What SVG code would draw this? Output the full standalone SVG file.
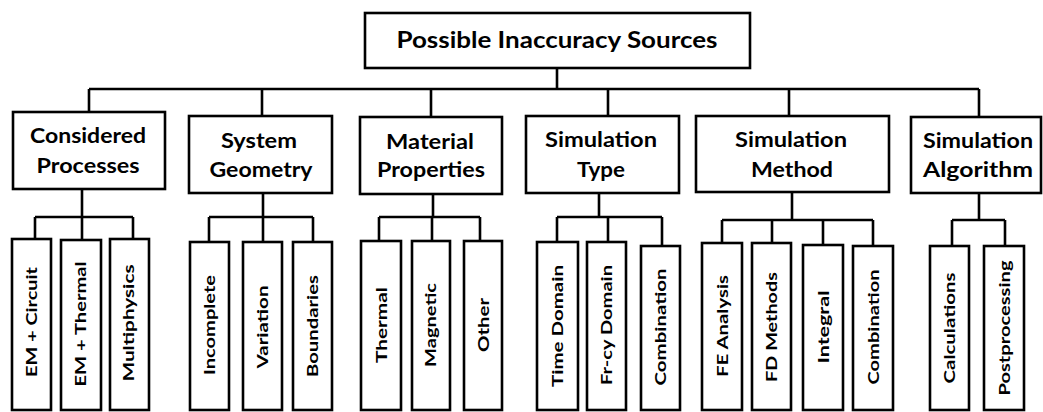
<svg xmlns="http://www.w3.org/2000/svg" width="1043" height="412" viewBox="0 0 1043 412">
<style>
rect{fill:#fff;stroke:#000;stroke-width:2.6}
.c path{fill:none;stroke:#000;stroke-width:2.6}
text{font-family:Lato,"Open Sans",sans-serif;font-weight:bold;fill:#000;text-anchor:middle}
.t{font-size:23px}
.m{font-size:21px}
.l{font-size:16px}
</style>
<g class="c" id="connectors">
<path d="M557 68V89M89 89H979M89 89V112M262 89V116M431 89V117M608 89V116M789 89V116M979 89V117"/>
<path d="M82 189V217M35 217H133M35 217V239M82 217V240M133 217V239"/>
<path d="M263 193V217M209 217H313M209 217V242M263 217V242M313 217V242"/>
<path d="M433 194V217M379 217H480M379 217V241M432 217V241M480 217V241"/>
<path d="M599 193V217M557 217H662M557 217V242M608 217V242M662 217V246"/>
<path d="M792 192V220M722 220H873M722 220V243M772 220V243M823 220V245M873 220V246"/>
<path d="M979 193V220M952 220H1005M952 220V246M1005 220V246"/>
</g>
<g id="root"><rect x="365" y="13" width="385" height="55"/><text class="t" x="557" y="48" textLength="321" lengthAdjust="spacingAndGlyphs">Possible Inaccuracy Sources</text></g>
<g id="cat-processes"><rect x="13" y="112" width="152" height="77"/><text class="m" x="88" y="143" textLength="116" lengthAdjust="spacingAndGlyphs">Considered</text><text class="m" x="88" y="173" textLength="103" lengthAdjust="spacingAndGlyphs">Processes</text></g>
<g id="cat-geometry"><rect x="189" y="116" width="143" height="77"/><text class="m" x="259" y="148" textLength="76" lengthAdjust="spacingAndGlyphs">System</text><text class="m" x="261" y="177" textLength="103" lengthAdjust="spacingAndGlyphs">Geometry</text></g>
<g id="cat-material"><rect x="360" y="117" width="142" height="77"/><text class="m" x="430" y="149" textLength="88" lengthAdjust="spacingAndGlyphs">Material</text><text class="m" x="431" y="177" textLength="108" lengthAdjust="spacingAndGlyphs">Properties</text></g>
<g id="cat-simtype"><rect x="526" y="116" width="153" height="77"/><text class="m" x="601" y="147" textLength="112" lengthAdjust="spacingAndGlyphs">Simulation</text><text class="m" x="601" y="177" textLength="48" lengthAdjust="spacingAndGlyphs">Type</text></g>
<g id="cat-simmethod"><rect x="696" y="116" width="193" height="76"/><text class="m" x="791" y="147" textLength="112" lengthAdjust="spacingAndGlyphs">Simulation</text><text class="m" x="792" y="177" textLength="82" lengthAdjust="spacingAndGlyphs">Method</text></g>
<g id="cat-simalgo"><rect x="911" y="117" width="130" height="76"/><text class="m" x="978" y="148" textLength="110" lengthAdjust="spacingAndGlyphs">Simulation</text><text class="m" x="978" y="177" textLength="110" lengthAdjust="spacingAndGlyphs">Algorithm</text></g>
<g id="leaf-em-circuit"><rect x="12" y="239" width="39" height="171"/><text class="l" transform="translate(31,322) rotate(-90)" y="6" textLength="110" lengthAdjust="spacingAndGlyphs">EM + Circuit</text></g>
<g id="leaf-em-thermal"><rect x="61" y="240" width="40" height="170"/><text class="l" transform="translate(80,324) rotate(-90)" y="6" textLength="125" lengthAdjust="spacingAndGlyphs">EM + Thermal</text></g>
<g id="leaf-multiphysics"><rect x="110" y="239" width="39" height="171"/><text class="l" transform="translate(128,323) rotate(-90)" y="6" textLength="117" lengthAdjust="spacingAndGlyphs">Multiphysics</text></g>
<g id="leaf-incomplete"><rect x="190" y="242" width="39" height="168"/><text class="l" transform="translate(209,325) rotate(-90)" y="6" textLength="100" lengthAdjust="spacingAndGlyphs">Incomplete</text></g>
<g id="leaf-variation"><rect x="243" y="242" width="39" height="168"/><text class="l" transform="translate(262,327) rotate(-90)" y="6" textLength="83" lengthAdjust="spacingAndGlyphs">Variation</text></g>
<g id="leaf-boundaries"><rect x="293" y="242" width="39" height="168"/><text class="l" transform="translate(312,326) rotate(-90)" y="6" textLength="102" lengthAdjust="spacingAndGlyphs">Boundaries</text></g>
<g id="leaf-thermal"><rect x="361" y="241" width="40" height="169"/><text class="l" transform="translate(381,325) rotate(-90)" y="6" textLength="76" lengthAdjust="spacingAndGlyphs">Thermal</text></g>
<g id="leaf-magnetic"><rect x="412" y="241" width="38" height="169"/><text class="l" transform="translate(430,325) rotate(-90)" y="6" textLength="84" lengthAdjust="spacingAndGlyphs">Magnetic</text></g>
<g id="leaf-other"><rect x="464" y="241" width="38" height="169"/><text class="l" transform="translate(483,325) rotate(-90)" y="6" textLength="54" lengthAdjust="spacingAndGlyphs">Other</text></g>
<g id="leaf-time-domain"><rect x="537" y="242" width="41" height="168"/><text class="l" transform="translate(557,326) rotate(-90)" y="6" textLength="122" lengthAdjust="spacingAndGlyphs">Time Domain</text></g>
<g id="leaf-freq-domain"><rect x="587" y="242" width="39" height="168"/><text class="l" transform="translate(606,325) rotate(-90)" y="6" textLength="120" lengthAdjust="spacingAndGlyphs">Fr-cy Domain</text></g>
<g id="leaf-type-combination"><rect x="641" y="246" width="39" height="164"/><text class="l" transform="translate(660,327) rotate(-90)" y="6" textLength="117" lengthAdjust="spacingAndGlyphs">Combination</text></g>
<g id="leaf-fe-analysis"><rect x="702" y="243" width="40" height="167"/><text class="l" transform="translate(722,326) rotate(-90)" y="6" textLength="102" lengthAdjust="spacingAndGlyphs">FE Analysis</text></g>
<g id="leaf-fd-methods"><rect x="752" y="243" width="39" height="167"/><text class="l" transform="translate(771,327) rotate(-90)" y="6" textLength="110" lengthAdjust="spacingAndGlyphs">FD Methods</text></g>
<g id="leaf-integral"><rect x="803" y="245" width="40" height="165"/><text class="l" transform="translate(823,327) rotate(-90)" y="6" textLength="73" lengthAdjust="spacingAndGlyphs">Integral</text></g>
<g id="leaf-method-combination"><rect x="853" y="246" width="40" height="164"/><text class="l" transform="translate(873,327) rotate(-90)" y="6" textLength="115" lengthAdjust="spacingAndGlyphs">Combination</text></g>
<g id="leaf-calculations"><rect x="930" y="246" width="39" height="164"/><text class="l" transform="translate(949,328) rotate(-90)" y="6" textLength="111" lengthAdjust="spacingAndGlyphs">Calculations</text></g>
<g id="leaf-postprocessing"><rect x="984" y="246" width="40" height="164"/><text class="l" transform="translate(1004,328) rotate(-90)" y="6" textLength="135" lengthAdjust="spacingAndGlyphs">Postprocessing</text></g>
</svg>
